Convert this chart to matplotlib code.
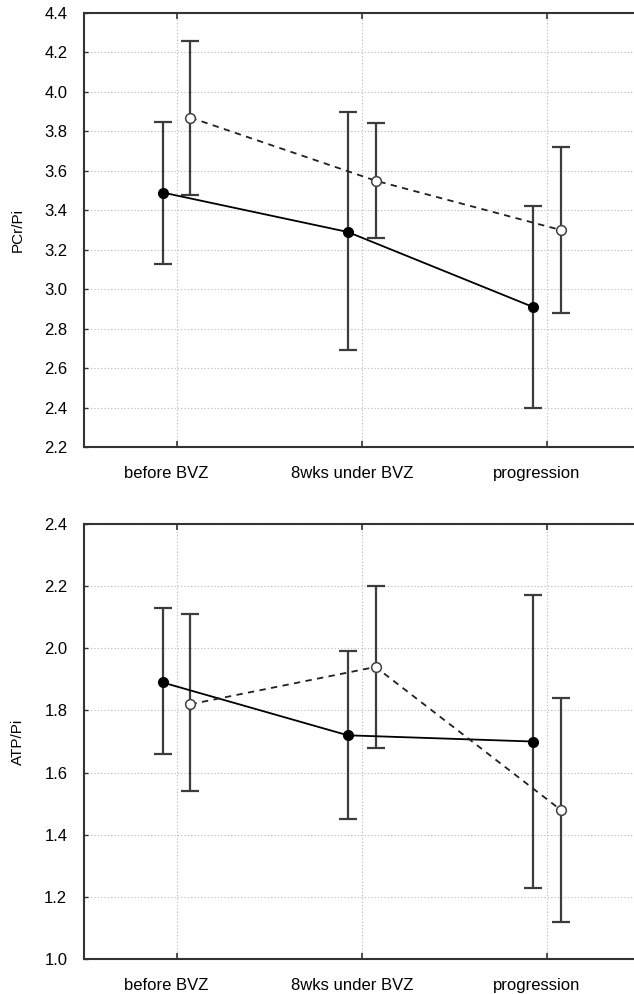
import matplotlib
matplotlib.use("Agg")
from matplotlib import pyplot as plt
from matplotlib import transforms
import numpy as np

plt.rcParams['font.family'] = ['Liberation Sans', 'DejaVu Sans']

# Categories on the x-axis
categories = ["before BVZ", "8wks under BVZ", "progression"]

# PCr/Pi panel: filled (solid) and open (dashed) series, mean with lower/upper whisker
pcr_filled = [3.49, 3.29, 2.91]
pcr_filled_lo = [3.13, 2.69, 2.40]
pcr_filled_hi = [3.85, 3.90, 3.42]
pcr_open = [3.87, 3.55, 3.30]
pcr_open_lo = [3.48, 3.26, 2.88]
pcr_open_hi = [4.26, 3.84, 3.72]

# ATP/Pi panel
atp_filled = [1.89, 1.72, 1.70]
atp_filled_lo = [1.66, 1.45, 1.23]
atp_filled_hi = [2.13, 1.99, 2.17]
atp_open = [1.82, 1.94, 1.48]
atp_open_lo = [1.54, 1.68, 1.12]
atp_open_hi = [2.11, 2.20, 1.84]

OFFSET = 0.075
ERR_COLOR = "#3c3c3c"


def draw_panel(fig, ax, filled, f_lo, f_hi, opn, o_lo, o_hi, ylim, yticks, ylabel):
    x = np.arange(len(categories))
    xf = x - OFFSET
    xo = x + OFFSET

    # gridlines at category positions and y ticks
    ax.set_axisbelow(True)
    ax.grid(True, linestyle=(0, (1, 2)), color="#b8b8b8", linewidth=0.8)

    # error bars
    f_err = [np.array(filled) - np.array(f_lo), np.array(f_hi) - np.array(filled)]
    o_err = [np.array(opn) - np.array(o_lo), np.array(o_hi) - np.array(opn)]
    ax.errorbar(xf, filled, yerr=f_err, fmt="none", ecolor=ERR_COLOR,
                elinewidth=1.6, capsize=6.5, capthick=1.6, zorder=2)
    ax.errorbar(xo, opn, yerr=o_err, fmt="none", ecolor=ERR_COLOR,
                elinewidth=1.6, capsize=6.5, capthick=1.6, zorder=2)

    # mean lines
    ax.plot(xf, filled, color="black", linewidth=1.3, marker="o", markersize=7,
            markerfacecolor="black", markeredgecolor="black", zorder=3)
    ax.plot(xo, opn, color="#202020", linewidth=1.3, linestyle=(0, (3.5, 3)),
            marker="o", markersize=7, markerfacecolor="white",
            markeredgecolor="#404040", markeredgewidth=1.1, zorder=3)

    ax.set_xlim(-0.5, 2.5)
    ax.set_ylim(*ylim)
    ax.set_xticks(x)
    ax.set_xticklabels(categories)
    ax.set_yticks(yticks)
    ax.yaxis.set_major_formatter(matplotlib.ticker.FormatStrFormatter("%.1f"))
    ax.set_ylabel(ylabel, fontsize=11, labelpad=14)

    ax.tick_params(axis="x", direction="in", length=4, width=1.2, top=True,
                   pad=14, labelsize=12, color="#333333")
    ax.tick_params(axis="y", direction="in", length=3, width=1.0,
                   pad=12, labelsize=12, color="#333333")
    for s in ax.spines.values():
        s.set_linewidth(1.5)
        s.set_color("#333333")

    # category labels sit a little left of their tick in the original
    shift = transforms.ScaledTranslation(-0.10, 0, fig.dpi_scale_trans)
    for lab in ax.get_xticklabels():
        lab.set_transform(lab.get_transform() + shift)


fig = plt.figure(figsize=(6.34, 9.94), dpi=100)
ax1 = fig.add_axes([0.1325, 0.5503, 0.876, 0.4366])
ax2 = fig.add_axes([0.1325, 0.0352, 0.876, 0.4376])

draw_panel(fig, ax1, pcr_filled, pcr_filled_lo, pcr_filled_hi,
           pcr_open, pcr_open_lo, pcr_open_hi,
           (2.2, 4.4), np.arange(2.2, 4.41, 0.2), "PCr/Pi")
draw_panel(fig, ax2, atp_filled, atp_filled_lo, atp_filled_hi,
           atp_open, atp_open_lo, atp_open_hi,
           (1.0, 2.4), np.arange(1.0, 2.41, 0.2), "ATP/Pi")

plt.savefig("out.png", dpi=100)
plt.close()
